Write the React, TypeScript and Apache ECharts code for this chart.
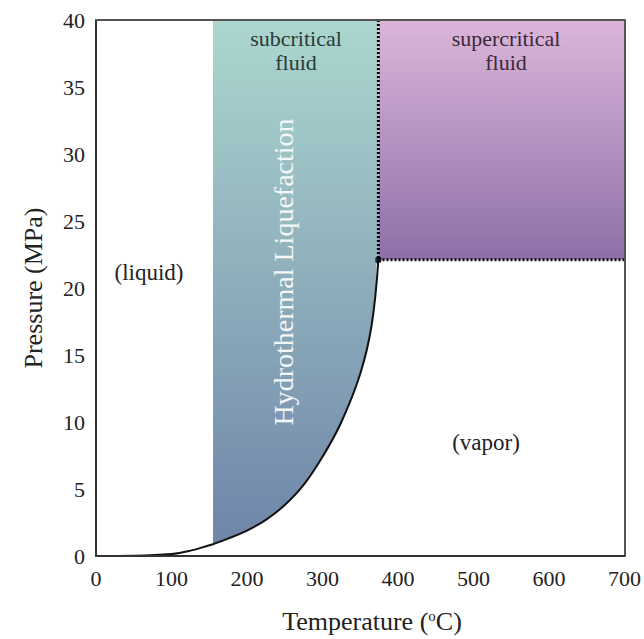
import React, { useEffect, useRef } from "react";
import * as echarts from "echarts";

// Saturation (boiling) curve: temperature (°C) and pressure (MPa)
const curveT = [0, 50, 100, 125, 150, 155, 175, 200, 225, 250, 275, 300, 325, 350, 365, 374];
const curveP = [0, 0.02, 0.15, 0.4, 0.8, 0.88, 1.3, 1.9, 2.7, 3.8, 5.3, 7.4, 10.0, 13.6, 17.2, 22.1];

// Region bounds
const subcriticalStartT = 155;
const criticalT = 374;
const criticalP = 22.1;
const xMax = 700;
const yMax = 40;

const xTicks = [0, 100, 200, 300, 400, 500, 600, 700];
const yTicks = [0, 5, 10, 15, 20, 25, 30, 35, 40];

const SERIF = "Liberation Serif, Times New Roman, serif";

export default function App() {
  const ref = useRef<HTMLDivElement>(null);

  useEffect(() => {
    if (!ref.current) return;
    const chart = echarts.init(ref.current, null, { renderer: "svg" });

    const blueGrad = new echarts.graphic.LinearGradient(0, 0, 0, 1, [
      { offset: 0, color: "#abd7cf" },
      { offset: 0.5, color: "#8eadbb" },
      { offset: 1, color: "#6d83a8" },
    ]);
    const purpleGrad = new echarts.graphic.LinearGradient(0, 0, 0, 1, [
      { offset: 0, color: "#dcb6d9" },
      { offset: 0.5, color: "#b493c2" },
      { offset: 1, color: "#8d6fa8" },
    ]);

    const axisLabel = { color: "#222", fontFamily: SERIF, fontSize: 22 };
    const curve = curveT.map((t, i) => [t, curveP[i]]);

    const option: any = {
      animation: false,
      backgroundColor: "#ffffff",
      grid: { left: 96, right: 15, top: 20, bottom: 83, containLabel: false },
      xAxis: [
        {
          type: "value",
          min: 0,
          max: xMax,
          interval: 100,
          z: 10,
          axisLine: { show: true, onZero: false, lineStyle: { color: "#333", width: 2 } },
          axisTick: { show: false },
          splitLine: { show: false },
          axisLabel: { ...axisLabel, margin: 11, formatter: (v: number) => (xTicks.includes(v) ? String(v) : "") },
        },
        {
          type: "value",
          position: "top",
          min: 0,
          max: xMax,
          z: 10,
          axisLine: { show: true, onZero: false, lineStyle: { color: "#555", width: 2 } },
          axisTick: { show: false },
          axisLabel: { show: false },
          splitLine: { show: false },
        },
      ],
      yAxis: [
        {
          type: "value",
          min: 0,
          max: yMax,
          interval: 5,
          z: 10,
          axisLine: { show: true, onZero: false, lineStyle: { color: "#333", width: 2 } },
          axisTick: { show: false },
          splitLine: { show: false },
          axisLabel: { ...axisLabel, margin: 11, formatter: (v: number) => (yTicks.includes(v) ? String(v) : "") },
        },
        {
          type: "value",
          position: "right",
          min: 0,
          max: yMax,
          z: 10,
          axisLine: { show: true, onZero: false, lineStyle: { color: "#555", width: 2 } },
          axisTick: { show: false },
          axisLabel: { show: false },
          splitLine: { show: false },
        },
      ],
      series: [
        // coloured regions
        {
          type: "line",
          data: [],
          z: 1,
          silent: true,
          markArea: {
            silent: true,
            data: [
              [
                { coord: [subcriticalStartT, 0], itemStyle: { color: blueGrad } },
                { coord: [criticalT, yMax] },
              ],
              [
                { coord: [criticalT, criticalP], itemStyle: { color: purpleGrad } },
                { coord: [xMax, yMax] },
              ],
            ],
          },
        },
        // white cover under the curve edge (hides the rect's anti-aliased edge)
        {
          type: "line",
          z: 2,
          silent: true,
          data: [
            [criticalT, 0],
            [criticalT, criticalP - 0.3],
          ],
          symbol: "none",
          lineStyle: { color: "#ffffff", width: 4 },
        },
        // saturation curve, with white below it
        {
          type: "line",
          z: 3,
          data: curve,
          smooth: 0.4,
          symbol: "none",
          lineStyle: { color: "#111", width: 2 },
          areaStyle: { color: "#ffffff", opacity: 1 },
        },
        // dotted boundaries of the supercritical region
        {
          type: "line",
          z: 4,
          data: [
            [criticalT, yMax],
            [criticalT, criticalP],
            [xMax, criticalP],
          ],
          symbol: "none",
          lineStyle: { color: "#000", width: 3, type: [2, 2] },
        },
        {
          type: "scatter",
          z: 5,
          data: [[criticalT, criticalP]],
          symbol: "roundRect",
          symbolSize: 6,
          itemStyle: { color: "#000" },
        },
      ],
      graphic: [
        {
          type: "text",
          x: 296,
          y: 38,
          z: 20,
          style: { text: "subcritical", fill: "#2a3a36", font: `22px ${SERIF}`, align: "center", verticalAlign: "middle" },
        },
        {
          type: "text",
          x: 296,
          y: 62,
          z: 20,
          style: { text: "fluid", fill: "#2a3a36", font: `22px ${SERIF}`, align: "center", verticalAlign: "middle" },
        },
        {
          type: "text",
          x: 506,
          y: 38,
          z: 20,
          style: { text: "supercritical", fill: "#3a2a3a", font: `22px ${SERIF}`, align: "center", verticalAlign: "middle" },
        },
        {
          type: "text",
          x: 506,
          y: 62,
          z: 20,
          style: { text: "fluid", fill: "#3a2a3a", font: `22px ${SERIF}`, align: "center", verticalAlign: "middle" },
        },
        {
          type: "text",
          x: 149,
          y: 272,
          z: 20,
          style: { text: "(liquid)", fill: "#222", font: `23px ${SERIF}`, align: "center", verticalAlign: "middle" },
        },
        {
          type: "text",
          x: 486,
          y: 442,
          z: 20,
          style: { text: "(vapor)", fill: "#222", font: `23px ${SERIF}`, align: "center", verticalAlign: "middle" },
        },
        {
          type: "text",
          x: 283,
          y: 272,
          z: 20,
          rotation: Math.PI / 2,
          style: {
            text: "Hydrothermal Liquefaction",
            fill: "#f4f7f8",
            font: `28px ${SERIF}`,
            align: "center",
            verticalAlign: "middle",
            shadowColor: "rgba(0,0,0,0.35)",
            shadowBlur: 2,
            shadowOffsetX: 1,
            shadowOffsetY: 1,
          },
        },
        {
          type: "text",
          x: 33,
          y: 288,
          z: 20,
          rotation: Math.PI / 2,
          style: {
            text: "Pressure (MPa)",
            fill: "#222",
            font: `26px ${SERIF}`,
            align: "center",
            verticalAlign: "middle",
          },
        },
        {
          type: "text",
          x: 372,
          y: 621,
          z: 20,
          style: {
            text: "Temperature ({sup|o}C)",
            fill: "#222",
            font: `26px ${SERIF}`,
            align: "center",
            verticalAlign: "middle",
            rich: {
              sup: { fontSize: 15, fontFamily: SERIF, fill: "#222", padding: [0, 0, 11, 0] },
            },
          },
        },
      ],
    };

    chart.setOption(option);
    return () => chart.dispose();
  }, []);

  return (
    <div
      ref={ref}
      style={{ position: "fixed", left: 0, top: 0, width: 644, height: 639, background: "#fff" }}
    />
  );
}
